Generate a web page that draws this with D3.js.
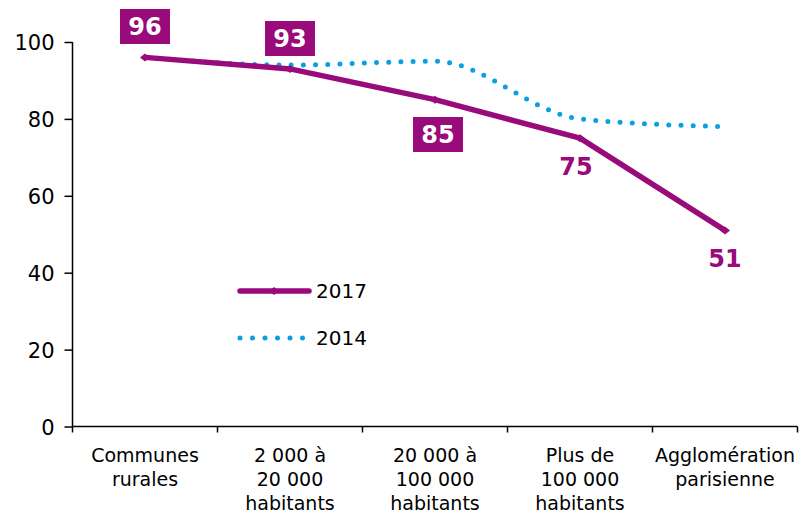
<!DOCTYPE html>
<html><head><meta charset="utf-8">
<script src="https://cdn.jsdelivr.net/npm/d3@7"></script>
<style>body{margin:0;background:#fff}svg{display:block}text{font-family:"DejaVu Sans",Verdana,sans-serif}</style>
</head><body><svg id="c" width="801" height="516"></svg>
<script>
const categories = [["Communes","rurales"],["2 000 à","20 000","habitants"],["20 000 à","100 000","habitants"],["Plus de","100 000","habitants"],["Agglomération","parisienne"]];
const values2017 = [96, 93, 85, 75, 51];
const values2014 = [96, 94, 95, 80, 78];
const yTicks = [0, 20, 40, 60, 80, 100];
const labelStyle2017 = ["box","box","boxBelow","below","below"];

const purple = "#990A7A", blue = "#0A9FE0";
const svg = d3.select("#c");
const x = d3.scaleBand().domain(d3.range(categories.length)).range([72.5, 797.5]);
const y = d3.scaleLinear().domain([0, 100]).range([426.5, 42]);
const cx = i => x(i) + x.bandwidth() / 2;

// axes
const yAxis = svg.append("g").attr("transform", "translate(72.5,0)")
  .call(d3.axisLeft(y).tickValues(yTicks).tickSize(8).tickPadding(10));
yAxis.select(".domain").attr("stroke", "#000").attr("stroke-width", 1.5).attr("d", "M0,42V426.5");
yAxis.selectAll(".tick line").attr("stroke-width", 1.5);
yAxis.selectAll(".tick text").attr("font-size", 21).attr("fill", "#000").attr("dy", "0.36em");

const xAxis = svg.append("g").attr("transform", "translate(0,426.5)");
xAxis.append("line").attr("x1", 72.5).attr("x2", 797.5).attr("stroke", "#000").attr("stroke-width", 1.5);
const tickPos = d3.range(categories.length + 1).map(i => 72.5 + i * x.bandwidth());
xAxis.selectAll(".xt").data(tickPos).join("line")
  .attr("x1", d => d).attr("x2", d => d).attr("y1", 0).attr("y2", 6)
  .attr("stroke", "#000").attr("stroke-width", 1.5);
categories.forEach((lines, i) => {
  const t = xAxis.append("text").attr("text-anchor", "middle").attr("font-size", 19).attr("fill", "#000");
  lines.forEach((l, j) => t.append("tspan").attr("x", cx(i)).attr("y", 35 + j * 24).text(l));
});

// 2014 dotted smooth line
const line2014 = d3.line().x((d, i) => cx(i)).y(d => y(d)).curve(d3.curveMonotoneX);
svg.append("path").attr("d", line2014(values2014)).attr("fill", "none")
  .attr("stroke", blue).attr("stroke-width", 5).attr("stroke-linecap", "round")
  .attr("stroke-dasharray", "0 12.2");

// 2017 line
const line2017 = d3.line().x((d, i) => cx(i)).y(d => y(d));
svg.append("path").attr("d", line2017(values2017)).attr("fill", "none")
  .attr("stroke", purple).attr("stroke-width", 5.5).attr("stroke-linejoin", "round");
svg.selectAll(".m").data(values2017).join("path")
  .attr("transform", (d, i) => `translate(${cx(i)},${y(d)})`)
  .attr("d", "M-5,0L0,-4L5,0L0,4Z").attr("fill", purple);

// labels
values2017.forEach((v, i) => {
  const px = cx(i), py = y(v);
  const st = labelStyle2017[i];
  if (st === "box" || st === "boxBelow") {
    const by = st === "box" ? (i === 0 ? 9 : 21) : 117;
    const bx = px - 25 + (st === "boxBelow" ? 3 : 0);
    svg.append("rect").attr("x", bx).attr("y", by).attr("width", 50).attr("height", 35).attr("fill", purple);
    svg.append("text").attr("x", bx + 25).attr("y", by + 26).attr("text-anchor", "middle")
      .attr("font-size", 24).attr("font-weight", "bold").attr("fill", "#fff").text(v);
  } else {
    svg.append("text").attr("x", px - (i === 3 ? 4 : 0)).attr("y", py + 37).attr("text-anchor", "middle")
      .attr("font-size", 24).attr("font-weight", "bold").attr("fill", purple).text(v);
  }
});

// legend
const lg = svg.append("g");
lg.append("line").attr("x1", 240).attr("x2", 309).attr("y1", 291).attr("y2", 291)
  .attr("stroke", purple).attr("stroke-width", 5.5).attr("stroke-linecap", "round");
lg.append("path").attr("transform", "translate(274,291)").attr("d", "M-5,0L0,-4L5,0L0,4Z").attr("fill", purple);
lg.append("text").attr("x", 316).attr("y", 298).attr("font-size", 20).attr("fill", "#000").text("2017");
lg.append("line").attr("x1", 240).attr("x2", 305).attr("y1", 338).attr("y2", 338)
  .attr("stroke", blue).attr("stroke-width", 5).attr("stroke-linecap", "round").attr("stroke-dasharray", "0 12.5");
lg.append("text").attr("x", 316).attr("y", 345).attr("font-size", 20).attr("fill", "#000").text("2014");
</script></body></html>
